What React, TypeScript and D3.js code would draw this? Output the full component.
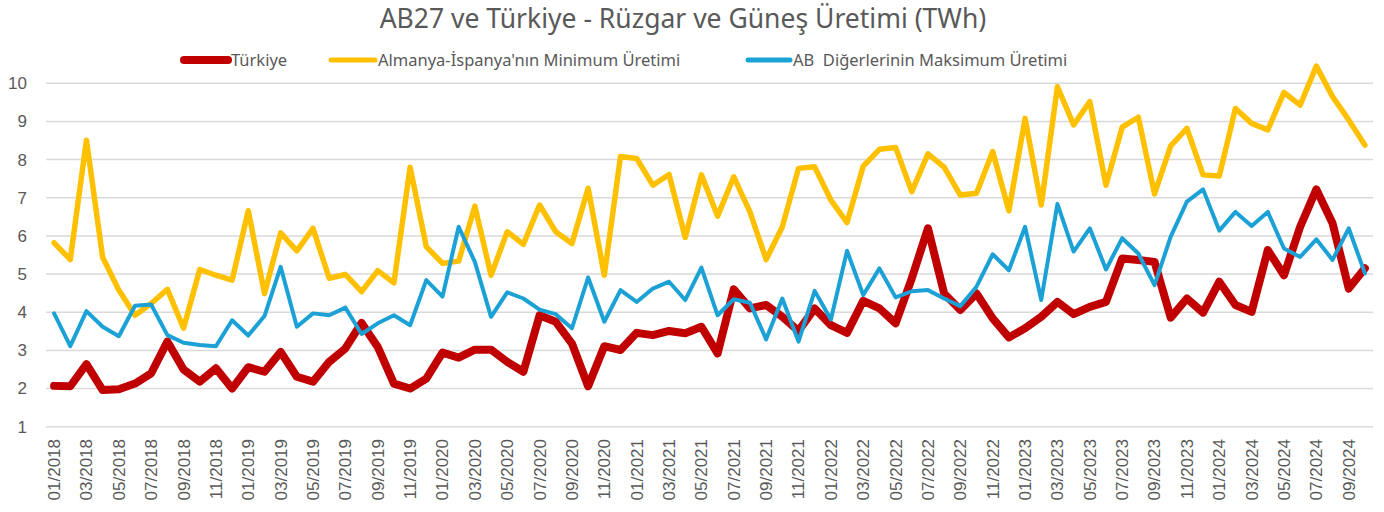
import React from 'react';
import * as d3 from 'd3';

// Monthly categories 01/2018 .. 10/2024
const months: string[] = [];
for (let y = 2018; y <= 2024; y++) {
  for (let m = 1; m <= 12; m++) {
    if (y === 2024 && m > 10) break;
    months.push(`${String(m).padStart(2, '0')}/${y}`);
  }
}

const turkiye = [
  2.07, 2.06, 2.64, 1.96, 1.98, 2.13, 2.40, 3.23, 2.50, 2.18, 2.53, 2.00,
  2.56, 2.44, 2.96, 2.31, 2.18, 2.70, 3.05, 3.72, 3.09, 2.13, 2.00, 2.26,
  2.94, 2.81, 3.02, 3.02, 2.70, 2.44, 3.92, 3.75, 3.18, 2.06, 3.11, 3.01,
  3.46, 3.40, 3.51, 3.45, 3.62, 2.92, 4.60, 4.10, 4.19, 3.88, 3.51, 4.10,
  3.66, 3.46, 4.30, 4.10, 3.71, 4.89, 6.20, 4.49, 4.06, 4.49, 3.84, 3.34,
  3.58, 3.88, 4.27, 3.95, 4.14, 4.27, 5.41, 5.37, 5.32, 3.86, 4.36, 3.99,
  4.80, 4.19, 4.01, 5.63, 4.97, 6.24, 7.22, 6.33, 4.62, 5.15
];

const almanyaIspanyaMin = [
  5.82, 5.38, 8.51, 5.44, 4.58, 3.92, 4.23, 4.60, 3.58, 5.12, 4.97, 4.84,
  6.66, 4.49, 6.08, 5.61, 6.20, 4.89, 4.99, 4.54, 5.09, 4.77, 7.80, 5.72,
  5.28, 5.34, 6.78, 4.97, 6.11, 5.78, 6.81, 6.11, 5.80, 7.25, 4.97, 8.08,
  8.03, 7.33, 7.61, 5.96, 7.60, 6.52, 7.55, 6.63, 5.38, 6.24, 7.77, 7.81,
  6.94, 6.35, 7.83, 8.27, 8.32, 7.16, 8.15, 7.80, 7.07, 7.12, 8.21, 6.66,
  9.08, 6.81, 9.91, 8.91, 9.52, 7.33, 8.85, 9.11, 7.10, 8.36, 8.82, 7.60,
  7.57, 9.34, 8.95, 8.78, 9.76, 9.43, 10.45, 9.65, 9.04, 8.38
];

const abDigerMax = [
  3.97, 3.11, 4.03, 3.62, 3.37, 4.17, 4.20, 3.40, 3.20, 3.14, 3.11, 3.79,
  3.39, 3.90, 5.19, 3.62, 3.97, 3.92, 4.12, 3.43, 3.71, 3.92, 3.66, 4.84,
  4.41, 6.24, 5.32, 3.88, 4.52, 4.36, 4.07, 3.95, 3.58, 4.91, 3.75, 4.58,
  4.27, 4.62, 4.80, 4.32, 5.17, 3.92, 4.34, 4.25, 3.29, 4.36, 3.23, 4.56,
  3.81, 5.61, 4.45, 5.15, 4.39, 4.55, 4.58, 4.36, 4.16, 4.67, 5.52, 5.10,
  6.24, 4.32, 6.84, 5.59, 6.20, 5.12, 5.94, 5.54, 4.71, 5.98, 6.90, 7.22,
  6.14, 6.63, 6.26, 6.63, 5.67, 5.45, 5.91, 5.37, 6.20, 5.02
];

const yTicks = [1, 2, 3, 4, 5, 6, 7, 8, 9, 10];

const series = [
  { name: 'Türkiye', values: turkiye, color: '#C00000', width: 8 },
  { name: "Almanya-İspanya'nın Minimum Üretimi", values: almanyaIspanyaMin, color: '#FFC000', width: 5.5 },
  { name: 'AB  Diğerlerinin Maksimum Üretimi', values: abDigerMax, color: '#1BA1D6', width: 4 }
];

const W = 1384;
const H = 512;
const textGray = '#595959';
const uiFont = '"Noto Sans", "Open Sans", sans-serif';
const axisFont = '"Liberation Sans", Arial, sans-serif';

const App: React.FC = () => {
  const x = d3.scalePoint<string>().domain(months).range([46, 1373]).padding(0.5);
  const y = d3.scaleLinear().domain([1, 10]).range([426.7, 83.3]);

  const line = d3.line<number>()
    .x((_, i) => x(months[i]) ?? 0)
    .y(d => y(d));

  // legend entries: swatch start, swatch end
  const legend = [
    { s: series[0], x0: 184, x1: 228 },
    { s: series[1], x0: 331, x1: 375 },
    { s: series[2], x0: 748, x1: 790 }
  ];

  return (
    <svg
      width={W}
      height={H}
      style={{ position: 'absolute', left: 0, top: 0, background: 'white', display: 'block' }}
    >
      {/* Title */}
      <text
        x={683}
        y={28}
        textAnchor="middle"
        fontFamily={uiFont}
        fontSize={26.5}
        fill={textGray}
      >
        AB27 ve Türkiye - Rüzgar ve Güneş Üretimi (TWh)
      </text>

      {/* Legend */}
      {legend.map(({ s, x0, x1 }) => (
        <g key={s.name}>
          <line
            x1={x0}
            x2={x1}
            y1={60}
            y2={60}
            stroke={s.color}
            strokeWidth={s.width === 8 ? 8 : 5}
            strokeLinecap="round"
          />
          <text
            x={x1 + 3}
            y={66}
            fontFamily={uiFont}
            fontSize={16.5}
            fill={textGray}
            style={{ whiteSpace: 'pre' }}
          >
            {s.name}
          </text>
        </g>
      ))}

      {/* Grid lines + y tick labels */}
      {yTicks.map(t => (
        <g key={t}>
          <line x1={46} x2={1373} y1={y(t)} y2={y(t)} stroke="#D9D9D9" strokeWidth={1.5} />
          <text
            x={27}
            y={y(t)}
            dy="0.35em"
            textAnchor="end"
            fontFamily={axisFont}
            fontSize={17}
            fill={textGray}
          >
            {t}
          </text>
        </g>
      ))}

      {/* X tick labels, every second month */}
      {months.filter((_, i) => i % 2 === 0).map(m => (
        <text
          key={m}
          transform={`translate(${x(m)},439) rotate(-90)`}
          dy="0.35em"
          textAnchor="end"
          fontFamily={axisFont}
          fontSize={17}
          fill={textGray}
        >
          {m}
        </text>
      ))}

      {/* Series lines */}
      {[series[1], series[0], series[2]].map(s => (
        <path
          key={s.name}
          d={line(s.values) ?? ''}
          fill="none"
          stroke={s.color}
          strokeWidth={s.width}
          strokeLinejoin="round"
          strokeLinecap="round"
        />
      ))}
    </svg>
  );
};

export default App;
